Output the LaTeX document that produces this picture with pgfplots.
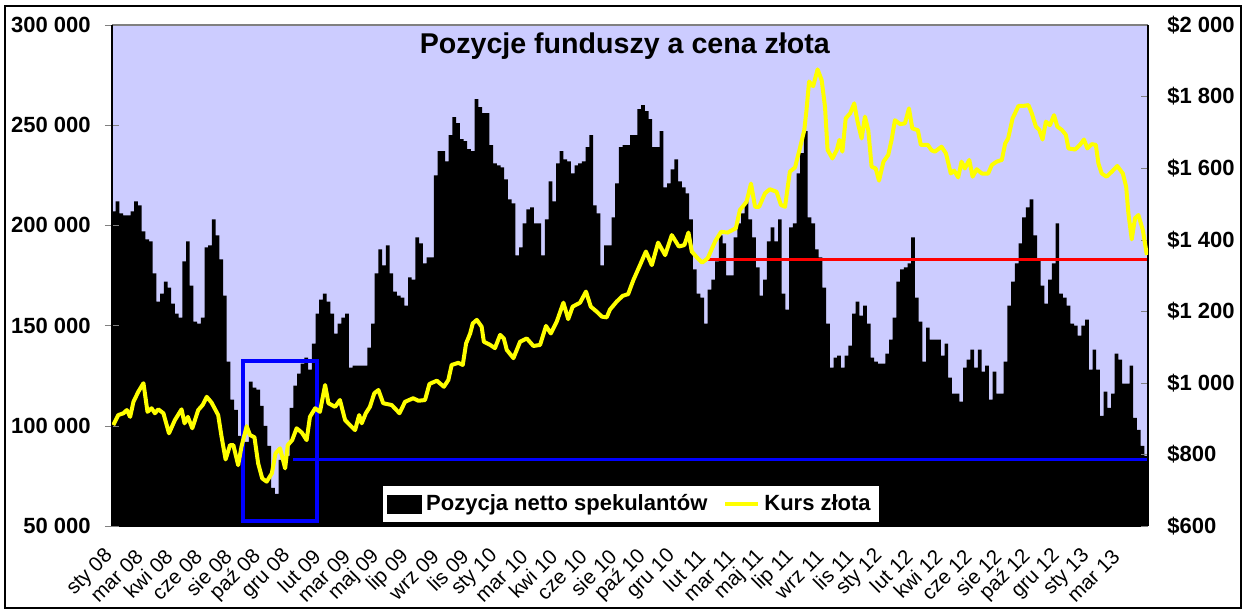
\documentclass[border=0pt]{standalone}
\usepackage{fontspec}
\setmainfont{Liberation Sans}
\usepackage{pgfplots}
\pgfplotsset{compat=1.18}
\definecolor{plotbg}{RGB}{204,204,255}
\definecolor{gold}{RGB}{255,255,0}
\definecolor{bblue}{RGB}{0,0,255}
\definecolor{rred}{RGB}{255,0,0}
\begin{document}
\begin{tikzpicture}
\path[use as bounding box] (0,0) rectangle (624pt,307.5pt);
\draw[line width=0.75pt] (2.5pt,3.5pt) rectangle (620.5pt,304.5pt);
\begin{axis}[
  at={(56pt,44.5pt)}, anchor=south west,
  scale only axis, width=518pt, height=250.5pt,
  xmin=0, xmax=280, ymin=50, ymax=300,
  axis background/.style={fill=plotbg},
  axis x line*=bottom, axis y line*=left,
  axis on top,
  tick align=outside,
  major tick length=3.5pt, minor tick length=2.5pt,
  ytick={50,100,150,200,250,300},
  yticklabels={50 000,100 000,150 000,200 000,250 000,300 000},
  yticklabel style={font=\bfseries\fontsize{11}{13}\selectfont, inner sep=0pt, xshift=-7pt},
  xtick={0.5,8.5,...,272.5},
  xticklabels={sty 08,mar 08,kwi 08,cze 08,sie 08,paź 08,gru 08,lut 09,mar 09,maj 09,lip 09,wrz 09,lis 09,sty 10,mar 10,kwi 10,cze 10,sie 10,paź 10,gru 10,lut 11,mar 11,maj 11,lip 11,wrz 11,lis 11,sty 12,lut 12,kwi 12,cze 12,sie 12,paź 12,gru 12,sty 13,mar 13},
  xtick style={draw=none},
  minor xtick={0,1,...,280},
  xticklabel shift=10pt,
  xticklabel style={font=\fontsize{10.3}{12}\selectfont, inner sep=0pt, rotate=45, anchor=east, xshift=-1.41pt, yshift=1.41pt},
  axis line style={black, line width=0.6pt},
]
\addplot[fill=black, draw=none, const plot mark left] coordinates {
(0,207)(1,212)(2,206)(3,205)(4,205)(5,207)(6,212)(7,210)(8,197)(9,193)
(10,192)(11,176)(12,162)(13,166)(14,172)(15,169)(16,161)(17,156)(18,154)(19,182)
(20,192)(21,170)(22,152)(23,151)(24,154)(25,189)(26,190)(27,203)(28,195)(29,183)
(30,165)(31,132)(32,113)(33,108)(34,95)(35,91)(36,92)(37,122)(38,119)(39,118)
(40,110)(41,100)(42,90)(43,69)(44,66)(45,83)(46,82)(47,85)(48,109)(49,120)
(50,126)(51,131)(52,134)(53,128)(54,141)(55,156)(56,163)(57,166)(58,162)(59,156)
(60,146)(61,151)(62,154)(63,156)(64,129)(65,130)(66,130)(67,130)(68,130)(69,139)
(70,151)(71,176)(72,188)(73,180)(74,190)(75,176)(76,167)(77,165)(78,164)(79,160)
(80,174)(81,173)(82,194)(83,191)(84,181)(85,184)(86,184)(87,225)(88,237)(89,237)
(90,232)(91,245)(92,254)(93,251)(94,243)(95,242)(96,238)(97,237)(98,263)(99,259)
(100,256)(101,256)(102,240)(103,231)(104,230)(105,229)(106,223)(107,213)(108,211)(109,185)
(110,189)(111,201)(112,208)(113,209)(114,201)(115,201)(116,185)(117,203)(118,222)(119,212)
(120,231)(121,237)(122,233)(123,232)(124,226)(125,230)(126,231)(127,232)(128,239)(129,245)
(130,210)(131,206)(132,180)(133,190)(134,190)(135,204)(136,221)(137,239)(138,240)(139,240)
(140,245)(141,245)(142,258)(143,260)(144,257)(145,253)(146,239)(147,239)(148,247)(149,219)
(150,221)(151,228)(152,233)(153,222)(154,219)(155,216)(156,203)(157,178)(158,166)(159,164)
(160,151)(161,168)(162,173)(163,182)(164,195)(165,191)(166,175)(167,175)(168,194)(169,201)
(170,206)(171,212)(172,203)(173,194)(174,179)(175,165)(176,173)(177,192)(178,199)(179,192)
(180,203)(181,166)(182,158)(183,199)(184,201)(185,226)(186,236)(187,247)(188,204)(189,201)
(190,188)(191,184)(192,169)(193,151)(194,129)(195,134)(196,135)(197,129)(198,135)(199,140)
(200,156)(201,162)(202,155)(203,160)(204,151)(205,134)(206,132)(207,131)(208,131)(209,136)
(210,143)(211,154)(212,172)(213,178)(214,179)(215,181)(216,194)(217,164)(218,152)(219,132)
(220,149)(221,143)(222,143)(223,143)(224,135)(225,141)(226,124)(227,116)(228,116)(229,112)
(230,129)(231,133)(232,138)(233,129)(234,138)(235,127)(236,130)(237,113)(238,127)(239,116)
(240,116)(241,132)(242,160)(243,172)(244,181)(245,191)(246,204)(247,209)(248,213)(249,195)
(250,183)(251,170)(252,161)(253,173)(254,181)(255,201)(256,166)(257,164)(258,160)(259,151)
(260,150)(261,145)(262,150)(263,153)(264,128)(265,138)(266,128)(267,105)(268,117)(269,109)
(270,116)(271,136)(272,133)(273,121)(274,121)(275,130)(276,104)(277,98)(278,90)(279,85)
(280,85)
} \closedcycle;
\addplot[rred, line width=1.5pt] coordinates {(160.7,183.1)(280,183.1)};
\addplot[bblue, line width=1.5pt] coordinates {(49,83.3)(280,83.3)};
\addplot[bblue, line width=2pt, line join=miter] coordinates {(35.3,52.5)(55.4,52.5)(55.4,132.5)(35.3,132.5)(35.3,52.5)(55.4,52.5)};
\draw[gray, line width=0.6pt] (rel axis cs:0,1) -- (rel axis cs:1,1);
\end{axis}
\begin{axis}[
  at={(56pt,44.5pt)}, anchor=south west,
  scale only axis, width=518pt, height=250.5pt,
  xmin=0, xmax=280, ymin=50, ymax=300,
  hide x axis, axis y line*=left,
  tick align=center, major tick length=7pt,
  ytick={50,100,150,200,250,300}, yticklabels={},
  axis line style={black, line width=0.6pt},
]
\end{axis}
\begin{axis}[
  at={(56pt,44.5pt)}, anchor=south west,
  scale only axis, width=518pt, height=250.5pt,
  xmin=0, xmax=280, ymin=600, ymax=2000,
  hide x axis,
  axis y line*=right,
  tick align=inside,
  major tick length=3.5pt,
  ytick={600,800,...,2000},
  yticklabels={\$600,\$800,\$1 000,\$1 200,\$1 400,\$1 600,\$1 800,\$2 000},
  yticklabel style={font=\bfseries\fontsize{11}{13}\selectfont, inner sep=0pt, anchor=west, xshift=9.5pt},
  axis line style={black, line width=0.6pt},
  legend style={at={(rel axis cs:0.2616,0.008)}, anchor=south west, draw=none, fill=white,
    font=\bfseries\fontsize{11}{13}\selectfont, inner xsep=2pt, inner ysep=2pt,
    legend columns=2, /tikz/every even column/.append style={column sep=6pt}},
  legend cell align=left,
]
\addlegendimage{legend image code/.code={\fill[black] (0pt,-4.5pt) rectangle (17pt,4.5pt);}}
\addlegendentry{Pozycja netto spekulantów}
\addplot[gold, line width=2pt, line join=round, legend image code/.code={\draw[gold, line width=2pt] (0pt,0pt) -- (16.5pt,0pt);}] coordinates {
(0.35,882)(1.7,910)(3.1,915)(4.0,924)(4.9,905)(5.8,947)(7.1,975)(8.5,999)(9.6,919)(10.7,929)(11.6,915)(12.5,926)(13.9,915)(15.4,859)(17.0,896)(18.8,926)(19.6,887)(20.5,905)(21.7,873)(23.3,924)(24.5,938)(25.6,961)(26.9,945)(28.7,910)(29.6,850)(30.7,786)(31.9,826)(32.8,826)(34.1,770)(35.0,822)(36.4,879)(37.3,854)(38.5,848)(39.5,775)(40.6,733)(41.8,724)(43.2,747)(44.2,803)(45.4,817)(46.8,761)(47.5,826)(48.7,840)(49.9,873)(51.3,861)(52.6,840)(53.5,905)(54.9,929)(56.2,919)(57.6,994)(58.5,943)(60.3,933)(61.6,952)(63.0,896)(64.3,882)(65.7,868)(66.8,910)(67.5,887)(68.6,915)(69.7,933)(70.9,971)(72.0,980)(73.3,943)
(75.6,938)(77.7,915)(79.2,947)(81.4,957)(82.8,950)(84.6,952)(85.8,997)(87.8,1006)(89.7,989)(90.9,1008)(91.8,1050)(93.6,1056)(94.8,1050)(95.7,1110)(96.8,1138)(97.5,1166)(98.6,1176)(99.9,1157)(100.5,1115)(102.2,1106)(103.5,1097)(104.9,1134)(105.9,1124)(106.7,1092)(108.5,1069)(110.3,1115)(112.1,1124)(113.9,1103)(115.7,1106)(117.3,1159)(118.6,1138)(120.2,1171)(122.0,1224)(123.3,1178)(124.5,1213)(126.5,1224)(128.1,1255)(129.4,1213)(131.0,1199)(132.4,1185)(133.7,1183)(134.6,1205)(136.4,1227)(138.0,1243)(139.5,1248)(140.9,1287)(142.7,1329)(144.3,1367)(145.9,1329)(147.6,1392)
(149.5,1357)(151.3,1413)(153.2,1381)(154.7,1385)(155.8,1420)(156.7,1367)(158.3,1348)(159.5,1336)(161.0,1348)(163.0,1395)(164.6,1422)(166.4,1420)(168.6,1432)(169.7,1483)(171.5,1506)(172.7,1557)(173.8,1492)(174.9,1492)(176.5,1530)(177.8,1541)(179.6,1534)(180.8,1497)(181.9,1492)(183.2,1590)(184.6,1602)(185.9,1655)(187.1,1706)(187.7,1762)(188.4,1842)(189.5,1829)(190.7,1876)(191.8,1846)(192.7,1772)(193.4,1651)(194.7,1627)(195.9,1651)(196.6,1679)(197.4,1646)(198.3,1739)(199.5,1753)(200.6,1781)(201.5,1730)(202.6,1683)(203.5,1744)(204.4,1706)(205.3,1604)(206.4,1599)(207.3,1565)(208.5,1618)(209.8,1637)(210.7,1679)(211.6,1734)(213.0,1723)(214.3,1725)(215.4,1767)(216.3,1711)(217.8,1706)(218.6,1665)(220.5,1665)
(221.5,1650)(222.4,1646)(224.2,1660)(225.4,1641)(226.7,1585)(227.6,1593)(228.7,1574)(229.6,1618)(230.5,1599)(231.7,1623)(232.6,1576)(233.7,1597)(235.1,1585)(236.8,1585)(237.8,1609)(239.1,1618)(240.5,1623)(241.4,1669)(242.2,1683)(243.4,1739)(245.0,1774)(246.3,1774)(247.7,1776)(248.6,1753)(249.7,1716)(250.6,1707)(251.5,1680)(252.4,1730)(253.5,1720)(254.6,1748)(255.5,1716)(256.7,1707)(257.8,1693)(258.5,1655)(260.3,1652)(261.6,1665)(262.7,1680)(263.6,1655)(264.8,1667)(265.9,1665)(266.6,1613)(267.5,1585)(268.8,1576)(270.2,1590)(271.7,1606)(273.2,1585)(274.1,1548)(274.7,1474)(275.6,1401)(276.5,1460)(277.4,1469)(278.6,1427)(279.7,1357)
};
\addlegendentry{Kurs złota}
\node[font=\bfseries\fontsize{14.3}{16}\selectfont, anchor=base] at (rel axis cs:0.495,0.944) {Pozycje funduszy a cena złota};
\end{axis}
\end{tikzpicture}
\end{document}
